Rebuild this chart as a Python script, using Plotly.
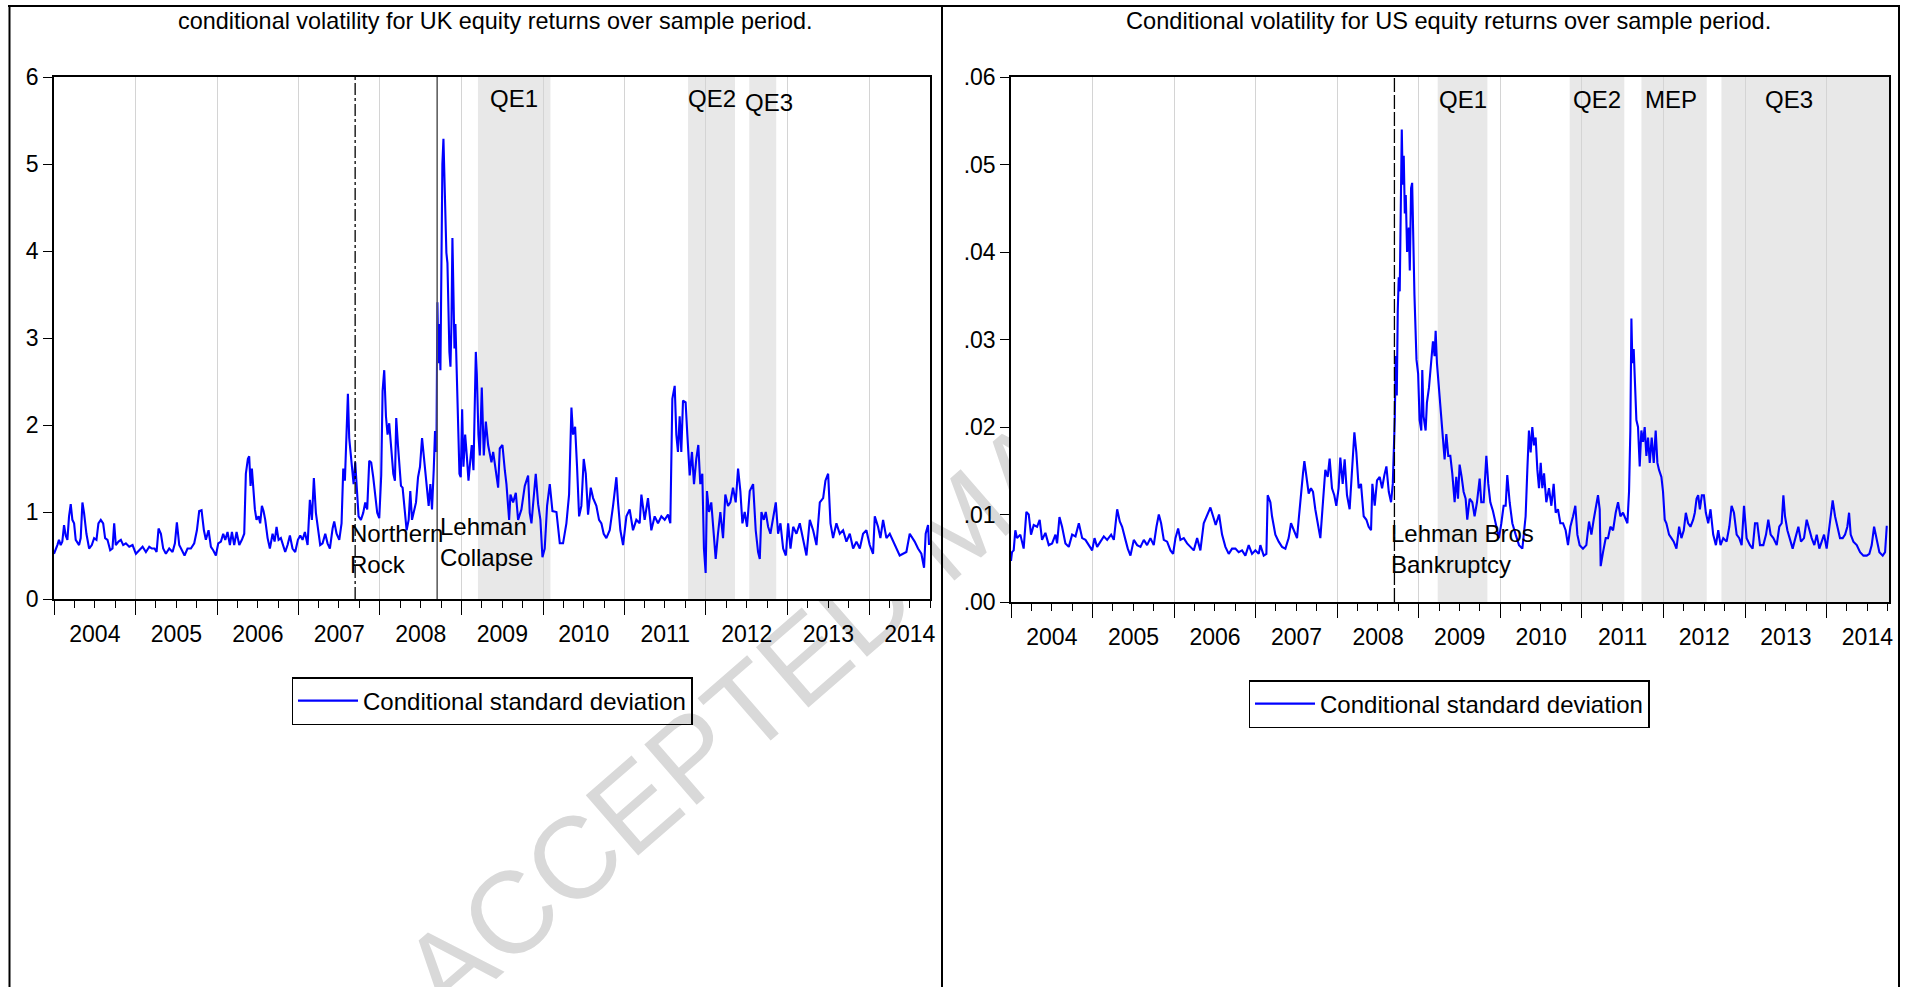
import pandas as pd
import plotly.graph_objects as go

# ---------------- data ----------------
uk_time = [
    2004.000, 2004.020, 2004.041, 2004.061, 2004.082, 2004.102, 2004.123, 2004.143, 2004.164, 2004.184,
    2004.205, 2004.225, 2004.246, 2004.266, 2004.307, 2004.327, 2004.348, 2004.368, 2004.397, 2004.430,
    2004.463, 2004.491, 2004.520, 2004.544, 2004.573, 2004.602, 2004.626, 2004.655, 2004.688, 2004.716,
    2004.737, 2004.757, 2004.790, 2004.819, 2004.847, 2004.880, 2004.921, 2004.962, 2005.003, 2005.044,
    2005.085, 2005.126, 2005.167, 2005.199, 2005.232, 2005.257, 2005.281, 2005.310, 2005.338, 2005.371,
    2005.412, 2005.453, 2005.482, 2005.506, 2005.535, 2005.568, 2005.600, 2005.637, 2005.678, 2005.719,
    2005.752, 2005.780, 2005.809, 2005.838, 2005.862, 2005.895, 2005.924, 2005.952, 2005.985, 2006.014,
    2006.047, 2006.075, 2006.100, 2006.128, 2006.157, 2006.182, 2006.210, 2006.239, 2006.272, 2006.304,
    2006.333, 2006.353, 2006.378, 2006.394, 2006.411, 2006.427, 2006.444, 2006.464, 2006.484, 2006.509,
    2006.529, 2006.550, 2006.570, 2006.591, 2006.620, 2006.648, 2006.681, 2006.706, 2006.730, 2006.755,
    2006.783, 2006.812, 2006.836, 2006.865, 2006.894, 2006.926, 2006.959, 2006.992, 2007.021, 2007.049,
    2007.078, 2007.111, 2007.139, 2007.164, 2007.188, 2007.213, 2007.238, 2007.266, 2007.295, 2007.328,
    2007.356, 2007.385, 2007.418, 2007.438, 2007.467, 2007.500, 2007.528, 2007.549, 2007.569, 2007.590,
    2007.606, 2007.622, 2007.639, 2007.655, 2007.676, 2007.696, 2007.716, 2007.737, 2007.766, 2007.794,
    2007.819, 2007.843, 2007.868, 2007.892, 2007.917, 2007.942, 2007.966, 2007.991, 2008.015, 2008.032,
    2008.052, 2008.073, 2008.093, 2008.113, 2008.138, 2008.163, 2008.183, 2008.199, 2008.220, 2008.236,
    2008.257, 2008.277, 2008.302, 2008.326, 2008.351, 2008.371, 2008.392, 2008.412, 2008.441, 2008.466,
    2008.490, 2008.515, 2008.535, 2008.556, 2008.576, 2008.596, 2008.617, 2008.637, 2008.658, 2008.674,
    2008.691, 2008.703, 2008.715, 2008.727, 2008.740, 2008.752, 2008.764, 2008.777, 2008.789, 2008.801,
    2008.813, 2008.826, 2008.838, 2008.850, 2008.863, 2008.875, 2008.887, 2008.899, 2008.912, 2008.924,
    2008.940, 2008.957, 2008.973, 2008.989, 2009.006, 2009.022, 2009.043, 2009.063, 2009.084, 2009.104,
    2009.124, 2009.145, 2009.161, 2009.174, 2009.186, 2009.206, 2009.223, 2009.247, 2009.272, 2009.297,
    2009.325, 2009.366, 2009.387, 2009.427, 2009.448, 2009.468, 2009.501, 2009.530, 2009.550, 2009.583,
    2009.599, 2009.632, 2009.665, 2009.693, 2009.734, 2009.775, 2009.816, 2009.836, 2009.857, 2009.910,
    2009.939, 2009.967, 2009.992, 2010.020, 2010.049, 2010.082, 2010.115, 2010.164, 2010.205, 2010.245,
    2010.286, 2010.319, 2010.348, 2010.368, 2010.393, 2010.417, 2010.442, 2010.470, 2010.499, 2010.524,
    2010.552, 2010.585, 2010.614, 2010.654, 2010.687, 2010.716, 2010.744, 2010.777, 2010.818, 2010.859,
    2010.900, 2010.920, 2010.949, 2010.982, 2011.023, 2011.063, 2011.104, 2011.145, 2011.186, 2011.207,
    2011.247, 2011.288, 2011.329, 2011.370, 2011.411, 2011.452, 2011.493, 2011.534, 2011.562, 2011.587,
    2011.616, 2011.636, 2011.656, 2011.677, 2011.697, 2011.718, 2011.750, 2011.771, 2011.800, 2011.828,
    2011.853, 2011.881, 2011.906, 2011.930, 2011.955, 2011.975, 2011.996, 2012.012, 2012.037, 2012.065,
    2012.094, 2012.119, 2012.147, 2012.176, 2012.209, 2012.237, 2012.270, 2012.299, 2012.331, 2012.364,
    2012.393, 2012.421, 2012.446, 2012.474, 2012.503, 2012.536, 2012.577, 2012.609, 2012.638, 2012.659,
    2012.679, 2012.708, 2012.732, 2012.761, 2012.789, 2012.822, 2012.855, 2012.883, 2012.912, 2012.945,
    2012.978, 2013.006, 2013.035, 2013.068, 2013.108, 2013.149, 2013.190, 2013.231, 2013.272, 2013.313,
    2013.354, 2013.395, 2013.436, 2013.464, 2013.497, 2013.526, 2013.558, 2013.599, 2013.640, 2013.681,
    2013.722, 2013.763, 2013.804, 2013.845, 2013.886, 2013.926, 2013.967, 2014.008, 2014.049, 2014.070,
    2014.110, 2014.139, 2014.172, 2014.213, 2014.254, 2014.295, 2014.335, 2014.376, 2014.417, 2014.458,
    2014.499, 2014.532, 2014.560, 2014.601, 2014.642, 2014.675, 2014.695, 2014.724, 2014.736,
]
uk_vol = [
    0.52, 0.56, 0.62, 0.68, 0.62, 0.66, 0.85, 0.73, 0.68, 0.95,
    1.09, 0.91, 0.87, 0.68, 0.62, 0.70, 1.11, 0.99, 0.75, 0.58,
    0.62, 0.70, 0.68, 0.87, 0.91, 0.87, 0.70, 0.68, 0.56, 0.58,
    0.87, 0.62, 0.66, 0.68, 0.62, 0.64, 0.60, 0.62, 0.52, 0.56,
    0.60, 0.54, 0.60, 0.58, 0.58, 0.54, 0.81, 0.75, 0.58, 0.52,
    0.58, 0.54, 0.64, 0.88, 0.62, 0.56, 0.50, 0.58, 0.58, 0.64,
    0.79, 1.01, 1.02, 0.79, 0.68, 0.79, 0.60, 0.56, 0.50, 0.64,
    0.66, 0.75, 0.68, 0.77, 0.62, 0.77, 0.62, 0.77, 0.62, 0.68,
    0.75, 1.44, 1.61, 1.64, 1.30, 1.50, 1.28, 1.03, 0.91, 0.95,
    0.87, 1.07, 1.01, 0.91, 0.70, 0.58, 0.75, 0.66, 0.83, 0.68,
    0.70, 0.62, 0.54, 0.62, 0.73, 0.58, 0.54, 0.68, 0.73, 0.68,
    0.77, 0.62, 1.14, 0.91, 1.39, 0.99, 0.79, 0.62, 0.64, 0.75,
    0.64, 0.58, 0.81, 0.89, 0.75, 0.68, 0.87, 1.50, 1.36, 2.00,
    2.36, 1.85, 1.65, 1.48, 1.32, 1.57, 1.28, 0.95, 0.91, 0.99,
    1.11, 1.03, 1.59, 1.57, 1.40, 1.20, 0.99, 0.93, 1.42, 2.39,
    2.63, 2.10, 1.89, 2.02, 1.77, 1.44, 1.36, 2.08, 1.77, 1.52,
    1.30, 1.28, 0.99, 0.79, 0.91, 1.24, 0.91, 0.99, 1.11, 1.40,
    1.52, 1.85, 1.65, 1.48, 1.24, 1.07, 1.32, 1.03, 1.48, 1.93,
    1.69, 3.41, 2.71, 3.16, 2.63, 3.82, 5.00, 5.29, 4.72, 4.48,
    3.98, 3.86, 3.33, 2.84, 2.67, 3.16, 4.15, 3.53, 2.88, 3.16,
    2.51, 1.89, 1.44, 1.40, 2.18, 1.52, 1.89, 1.65, 1.36, 1.57,
    1.77, 1.48, 2.47, 2.84, 2.59, 1.89, 1.65, 2.43, 1.65, 2.04,
    1.77, 1.57, 1.69, 1.44, 1.28, 1.73, 1.77, 1.48, 1.32, 0.91,
    1.20, 1.11, 1.22, 0.91, 1.03, 1.30, 1.42, 0.99, 0.87, 1.44,
    1.09, 0.91, 0.48, 0.58, 1.07, 1.32, 1.01, 1.00, 0.64, 0.64,
    0.87, 1.20, 2.20, 1.89, 1.98, 1.52, 0.95, 1.07, 1.61, 1.44,
    0.97, 1.28, 1.16, 1.07, 0.91, 0.87, 0.75, 0.70, 0.79, 1.07,
    1.40, 1.11, 0.79, 0.62, 0.95, 1.03, 0.79, 0.91, 0.87, 1.20,
    0.91, 1.16, 0.79, 0.95, 0.87, 0.95, 0.91, 0.97, 0.87, 2.30,
    2.45, 1.89, 1.69, 2.10, 1.69, 2.28, 2.26, 1.89, 1.42, 1.69,
    1.32, 1.61, 1.77, 1.32, 1.44, 0.58, 0.30, 1.24, 1.00, 1.11,
    0.75, 0.46, 0.75, 1.00, 0.70, 1.20, 1.07, 1.11, 1.28, 1.11,
    1.50, 1.24, 0.87, 1.00, 0.83, 1.24, 1.32, 0.79, 0.54, 0.46,
    1.00, 0.91, 1.00, 0.83, 0.75, 0.91, 1.11, 0.75, 0.87, 0.58,
    0.50, 0.87, 0.58, 0.83, 0.75, 0.87, 0.70, 0.50, 0.91, 0.79,
    0.62, 1.11, 1.16, 1.36, 1.44, 0.87, 0.70, 0.87, 0.75, 0.79,
    0.66, 0.75, 0.58, 0.66, 0.58, 0.75, 0.79, 0.62, 0.52, 0.95,
    0.83, 0.70, 0.91, 0.70, 0.75, 0.66, 0.58, 0.50, 0.52, 0.54,
    0.75, 0.70, 0.66, 0.58, 0.52, 0.36, 0.75, 0.85, 0.62,
]

us_time = [
    2004.000, 2004.012, 2004.033, 2004.053, 2004.074, 2004.114, 2004.155, 2004.188, 2004.217, 2004.245,
    2004.278, 2004.319, 2004.351, 2004.380, 2004.421, 2004.462, 2004.503, 2004.544, 2004.564, 2004.593,
    2004.625, 2004.666, 2004.707, 2004.748, 2004.789, 2004.830, 2004.871, 2004.911, 2004.952, 2004.993,
    2005.022, 2005.054, 2005.095, 2005.136, 2005.177, 2005.226, 2005.259, 2005.300, 2005.332, 2005.361,
    2005.402, 2005.430, 2005.463, 2005.504, 2005.545, 2005.586, 2005.627, 2005.667, 2005.708, 2005.749,
    2005.782, 2005.811, 2005.839, 2005.872, 2005.913, 2005.954, 2005.986, 2006.015, 2006.048, 2006.076,
    2006.117, 2006.158, 2006.199, 2006.240, 2006.281, 2006.321, 2006.362, 2006.403, 2006.444, 2006.477,
    2006.509, 2006.550, 2006.587, 2006.628, 2006.669, 2006.710, 2006.751, 2006.791, 2006.832, 2006.873,
    2006.914, 2006.955, 2006.996, 2007.037, 2007.057, 2007.098, 2007.131, 2007.147, 2007.180, 2007.200,
    2007.241, 2007.282, 2007.323, 2007.364, 2007.404, 2007.433, 2007.466, 2007.507, 2007.527, 2007.556,
    2007.580, 2007.597, 2007.621, 2007.650, 2007.678, 2007.703, 2007.731, 2007.760, 2007.793, 2007.825,
    2007.854, 2007.883, 2007.907, 2007.936, 2007.964, 2007.989, 2008.017, 2008.038, 2008.067, 2008.091,
    2008.120, 2008.152, 2008.185, 2008.210, 2008.234, 2008.263, 2008.291, 2008.324, 2008.357, 2008.385,
    2008.414, 2008.430, 2008.459, 2008.487, 2008.520, 2008.549, 2008.577, 2008.602, 2008.631, 2008.659,
    2008.680, 2008.692, 2008.704, 2008.716, 2008.729, 2008.741, 2008.753, 2008.765, 2008.778, 2008.790,
    2008.802, 2008.814, 2008.827, 2008.839, 2008.855, 2008.876, 2008.888, 2008.904, 2008.917, 2008.929,
    2008.945, 2008.970, 2008.990, 2009.008, 2009.029, 2009.041, 2009.057, 2009.082, 2009.098, 2009.123,
    2009.151, 2009.172, 2009.192, 2009.205, 2009.221, 2009.246, 2009.262, 2009.286, 2009.315, 2009.336,
    2009.360, 2009.385, 2009.409, 2009.438, 2009.458, 2009.479, 2009.499, 2009.524, 2009.548, 2009.573,
    2009.593, 2009.622, 2009.655, 2009.683, 2009.712, 2009.745, 2009.765, 2009.794, 2009.827, 2009.851,
    2009.876, 2009.908, 2009.949, 2009.982, 2010.011, 2010.039, 2010.064, 2010.084, 2010.113, 2010.146,
    2010.187, 2010.228, 2010.269, 2010.309, 2010.330, 2010.350, 2010.371, 2010.391, 2010.412, 2010.432,
    2010.453, 2010.473, 2010.494, 2010.514, 2010.535, 2010.563, 2010.596, 2010.625, 2010.653, 2010.678,
    2010.706, 2010.735, 2010.768, 2010.800, 2010.829, 2010.858, 2010.891, 2010.919, 2010.944, 2010.972,
    2011.013, 2011.054, 2011.087, 2011.116, 2011.144, 2011.177, 2011.197, 2011.218, 2011.230, 2011.259,
    2011.292, 2011.320, 2011.349, 2011.382, 2011.414, 2011.443, 2011.472, 2011.504, 2011.537, 2011.558,
    2011.578, 2011.594, 2011.607, 2011.619, 2011.635, 2011.652, 2011.668, 2011.688, 2011.709, 2011.729,
    2011.750, 2011.770, 2011.791, 2011.811, 2011.832, 2011.856, 2011.881, 2011.905, 2011.926, 2011.946,
    2011.975, 2011.995, 2012.016, 2012.036, 2012.069, 2012.098, 2012.126, 2012.159, 2012.192, 2012.220,
    2012.249, 2012.274, 2012.302, 2012.331, 2012.364, 2012.384, 2012.405, 2012.425, 2012.446, 2012.470,
    2012.495, 2012.519, 2012.548, 2012.576, 2012.609, 2012.642, 2012.671, 2012.699, 2012.732, 2012.773,
    2012.806, 2012.834, 2012.863, 2012.896, 2012.928, 2012.957, 2012.986, 2013.018, 2013.059, 2013.092,
    2013.121, 2013.149, 2013.182, 2013.223, 2013.256, 2013.284, 2013.313, 2013.346, 2013.387, 2013.419,
    2013.448, 2013.469, 2013.489, 2013.518, 2013.550, 2013.583, 2013.616, 2013.653, 2013.685, 2013.722,
    2013.755, 2013.788, 2013.816, 2013.849, 2013.878, 2013.910, 2013.939, 2013.968, 2014.000, 2014.041,
    2014.074, 2014.103, 2014.131, 2014.164, 2014.197, 2014.226, 2014.254, 2014.275, 2014.295, 2014.328,
    2014.369, 2014.410, 2014.451, 2014.492, 2014.524, 2014.553, 2014.582, 2014.614, 2014.647, 2014.688,
    2014.717, 2014.737, 2014.749,
]
us_vol = [
    0.0047, 0.0057, 0.0059, 0.0082, 0.0073, 0.0077, 0.0061, 0.0103, 0.0100, 0.0077,
    0.0088, 0.0086, 0.0094, 0.0071, 0.0079, 0.0065, 0.0067, 0.0077, 0.0067, 0.0097,
    0.0086, 0.0067, 0.0063, 0.0077, 0.0075, 0.0090, 0.0073, 0.0071, 0.0065, 0.0059,
    0.0073, 0.0063, 0.0069, 0.0075, 0.0071, 0.0077, 0.0071, 0.0106, 0.0092, 0.0086,
    0.0071, 0.0061, 0.0053, 0.0071, 0.0065, 0.0063, 0.0071, 0.0065, 0.0073, 0.0065,
    0.0086, 0.0100, 0.0090, 0.0071, 0.0069, 0.0059, 0.0055, 0.0073, 0.0084, 0.0071,
    0.0073, 0.0067, 0.0063, 0.0059, 0.0073, 0.0059, 0.0090, 0.0098, 0.0108, 0.0098,
    0.0088, 0.0100, 0.0077, 0.0063, 0.0055, 0.0061, 0.0061, 0.0057, 0.0059, 0.0053,
    0.0065, 0.0055, 0.0059, 0.0055, 0.0065, 0.0053, 0.0055, 0.0122, 0.0114, 0.0098,
    0.0077, 0.0069, 0.0063, 0.0061, 0.0073, 0.0090, 0.0082, 0.0073, 0.0094, 0.0126,
    0.0147, 0.0161, 0.0143, 0.0124, 0.0130, 0.0126, 0.0106, 0.0090, 0.0073, 0.0114,
    0.0151, 0.0143, 0.0164, 0.0130, 0.0122, 0.0110, 0.0130, 0.0165, 0.0135, 0.0163,
    0.0122, 0.0106, 0.0159, 0.0194, 0.0171, 0.0130, 0.0135, 0.0098, 0.0094, 0.0086,
    0.0082, 0.0135, 0.0110, 0.0139, 0.0143, 0.0130, 0.0145, 0.0155, 0.0126, 0.0114,
    0.0135, 0.0171, 0.0208, 0.0281, 0.0236, 0.0334, 0.0371, 0.0355, 0.0501, 0.0540,
    0.0477, 0.0510, 0.0444, 0.0465, 0.0400, 0.0428, 0.0379, 0.0473, 0.0479, 0.0408,
    0.0351, 0.0277, 0.0261, 0.0208, 0.0196, 0.0265, 0.0212, 0.0196, 0.0228, 0.0245,
    0.0273, 0.0298, 0.0281, 0.0310, 0.0273, 0.0245, 0.0228, 0.0196, 0.0163, 0.0192,
    0.0167, 0.0167, 0.0147, 0.0114, 0.0143, 0.0118, 0.0157, 0.0143, 0.0126, 0.0118,
    0.0094, 0.0118, 0.0114, 0.0098, 0.0114, 0.0141, 0.0114, 0.0114, 0.0167, 0.0135,
    0.0114, 0.0104, 0.0086, 0.0073, 0.0090, 0.0110, 0.0110, 0.0145, 0.0114, 0.0090,
    0.0077, 0.0065, 0.0061, 0.0098, 0.0151, 0.0196, 0.0171, 0.0200, 0.0179, 0.0188,
    0.0151, 0.0130, 0.0159, 0.0130, 0.0147, 0.0114, 0.0130, 0.0110, 0.0135, 0.0102,
    0.0106, 0.0090, 0.0090, 0.0082, 0.0065, 0.0086, 0.0098, 0.0110, 0.0077, 0.0065,
    0.0061, 0.0065, 0.0092, 0.0077, 0.0094, 0.0110, 0.0122, 0.0106, 0.0041, 0.0057,
    0.0073, 0.0073, 0.0086, 0.0082, 0.0102, 0.0114, 0.0098, 0.0102, 0.0094, 0.0090,
    0.0126, 0.0196, 0.0324, 0.0273, 0.0289, 0.0236, 0.0208, 0.0200, 0.0155, 0.0196,
    0.0183, 0.0200, 0.0167, 0.0188, 0.0159, 0.0188, 0.0159, 0.0196, 0.0159, 0.0151,
    0.0143, 0.0126, 0.0094, 0.0090, 0.0077, 0.0073, 0.0069, 0.0061, 0.0086, 0.0073,
    0.0082, 0.0102, 0.0090, 0.0086, 0.0094, 0.0102, 0.0118, 0.0122, 0.0106, 0.0122,
    0.0122, 0.0102, 0.0090, 0.0106, 0.0077, 0.0065, 0.0082, 0.0065, 0.0073, 0.0069,
    0.0086, 0.0110, 0.0102, 0.0077, 0.0073, 0.0065, 0.0110, 0.0073, 0.0065, 0.0061,
    0.0090, 0.0090, 0.0065, 0.0065, 0.0077, 0.0094, 0.0077, 0.0073, 0.0065, 0.0086,
    0.0090, 0.0122, 0.0098, 0.0082, 0.0073, 0.0061, 0.0073, 0.0086, 0.0069, 0.0073,
    0.0094, 0.0082, 0.0073, 0.0065, 0.0077, 0.0061, 0.0069, 0.0077, 0.0061, 0.0090,
    0.0116, 0.0098, 0.0086, 0.0073, 0.0073, 0.0077, 0.0086, 0.0102, 0.0077, 0.0069,
    0.0065, 0.0057, 0.0053, 0.0053, 0.0055, 0.0065, 0.0086, 0.0073, 0.0057, 0.0053,
    0.0057, 0.0086, 0.0086,
]

# events (decimal years) and policy windows
uk_northern_rock = 2007.695
lehman = 2008.700
uk_windows = [("QE1", 2009.20, 2010.09), ("QE2", 2011.78, 2012.355), ("QE3", 2012.53, 2012.86)]
us_windows = [("QE1", 2009.23, 2009.84), ("QE2", 2010.85, 2011.52),
              ("MEP", 2011.73, 2012.53), ("QE3", 2012.71, 2014.80)]

uk_y_ticks = [0, 1, 2, 3, 4, 5, 6]
uk_y_labels = ["0", "1", "2", "3", "4", "5", "6"]
us_y_ticks = [0.0, 0.01, 0.02, 0.03, 0.04, 0.05, 0.06]
us_y_labels = [".00", ".01", ".02", ".03", ".04", ".05", ".06"]

uk_title = "conditional volatility for UK equity returns over sample period."
us_title = "Conditional volatility for US equity returns over sample period."
series_name = "Conditional standard deviation"
watermark = "ACCEPTED MA"


def to_date(t):
    y = int(t)
    start = pd.Timestamp(year=y, month=1, day=1)
    end = pd.Timestamp(year=y + 1, month=1, day=1)
    return start + (end - start) * (t - y)


W, H = 1905, 987
FONT = "Liberation Sans, Arial, sans-serif"


def px(x):
    return x / W


def py(y):
    return 1 - y / H


fig = go.Figure()
fig.add_trace(go.Scatter(x=[to_date(t) for t in uk_time], y=uk_vol, mode="lines",
                         line=dict(color="#0000ff", width=2.1), name=series_name,
                         xaxis="x", yaxis="y", legend="legend", showlegend=True))
fig.add_trace(go.Scatter(x=[to_date(t) for t in us_time], y=us_vol, mode="lines",
                         line=dict(color="#0000ff", width=2.1), name=series_name,
                         xaxis="x2", yaxis="y2", legend="legend2", showlegend=True))

xcommon = dict(type="date", dtick="M12", tick0="2004-01-01", tickformat="%Y",
               ticklabelmode="period", ticks="outside", ticklen=14, tickwidth=1.2,
               tickcolor="black", showgrid=True, gridcolor="#d4d4d4", gridwidth=1,
               showline=True, mirror=True, linecolor="black", linewidth=1.5,
               zeroline=False, tickfont=dict(size=23, color="black"), automargin=False,
               minor=dict(dtick="M3", tick0="2004-01-01", ticks="outside", ticklen=7,
                          tickwidth=1, tickcolor="black", showgrid=False))
ycommon = dict(ticks="outside", ticklen=9, tickwidth=1.2, tickcolor="black",
               showgrid=False, showline=True, mirror=True, linecolor="black",
               linewidth=1.5, zeroline=False, automargin=False,
               tickfont=dict(size=23, color="black"))

legend_common = dict(xanchor="center", yanchor="top", bordercolor="black", borderwidth=1.5,
                     bgcolor="rgba(255,255,255,0)", itemwidth=60,
                     font=dict(size=24, color="black"))

fig.update_layout(
    width=W, height=H, margin=dict(l=0, r=0, t=0, b=0, autoexpand=False),
    paper_bgcolor="white", plot_bgcolor="white", showlegend=True,
    font=dict(family=FONT, color="black"),
    xaxis=dict(domain=[px(54), px(930)], range=[to_date(2004.0), to_date(2014.748)],
               anchor="y", **xcommon),
    yaxis=dict(domain=[py(599), py(77)], range=[0, 6], tickmode="array",
               tickvals=uk_y_ticks, ticktext=uk_y_labels, anchor="x", **ycommon),
    xaxis2=dict(domain=[px(1011), px(1889)], range=[to_date(2004.0), to_date(2014.765)],
                anchor="y2", **xcommon),
    yaxis2=dict(domain=[py(602), py(77)], range=[0, 0.06], tickmode="array",
                tickvals=us_y_ticks, ticktext=us_y_labels, anchor="x2", **ycommon),
    legend=dict(x=px(492), y=py(677), **legend_common),
    legend2=dict(x=px(1449), y=py(680), **legend_common),
)

shapes = []
annotations = []

# watermark: lies beneath everything, hidden by the opaque plot areas
shapes.append(dict(type="line", xref="paper", yref="paper",
                   x0=px(413), y0=py(984), x1=px(1045), y1=py(434), layer="below",
                   line=dict(color="rgba(0,0,0,0)", width=0),
                   label=dict(text=watermark, textposition="middle", textangle=-41,
                              xanchor="center", yanchor="middle", padding=0,
                              font=dict(size=116, color="#d9d9d9", family=FONT))))
# opaque plot areas
shapes.append(dict(type="rect", xref="paper", yref="paper", x0=px(54), x1=px(930),
                   y0=py(599), y1=py(77), fillcolor="white", line=dict(width=0), layer="below"))
shapes.append(dict(type="rect", xref="paper", yref="paper", x0=px(1011), x1=px(1889),
                   y0=py(602), y1=py(77), fillcolor="white", line=dict(width=0), layer="below"))

for windows, xa, ya in [(uk_windows, "x", "y"), (us_windows, "x2", "y2")]:
    for label, t0, t1 in windows:
        shapes.append(dict(type="rect", xref=xa, yref=f"{ya} domain",
                           x0=to_date(t0), x1=to_date(t1), y0=0, y1=1,
                           fillcolor="#e8e8e8", line=dict(width=0), layer="below"))

# QE labels
uk_label_x = {"QE1": 2009.645, "QE2": 2012.07, "QE3": 2012.77}
for label, t0, t1 in uk_windows:
    annotations.append(dict(text=label, x=to_date(uk_label_x[label]),
                            y=0.958 if label != "QE3" else 0.952,
                            xref="x", yref="y domain", showarrow=False,
                            xanchor="center", yanchor="middle",
                            font=dict(size=24, color="black")))
us_label_x = {"QE1": 2009.54, "QE2": 2011.18, "MEP": 2012.09, "QE3": 2013.54}
for label, t0, t1 in us_windows:
    annotations.append(dict(text=label, x=to_date(us_label_x[label]), y=0.958,
                            xref="x2", yref="y2 domain", showarrow=False,
                            xanchor="center", yanchor="middle",
                            font=dict(size=24, color="black")))

# event lines
shapes.append(dict(type="line", xref="x", yref="y domain", x0=to_date(uk_northern_rock),
                   x1=to_date(uk_northern_rock), y0=0, y1=1, layer="above",
                   line=dict(color="black", width=1.3, dash="12px,3px,3px,3px")))
shapes.append(dict(type="line", xref="x", yref="y domain", x0=to_date(lehman),
                   x1=to_date(lehman), y0=0, y1=1, layer="above",
                   line=dict(color="#555555", width=1.5)))
shapes.append(dict(type="line", xref="x2", yref="y2 domain", x0=to_date(lehman),
                   x1=to_date(lehman), y0=0, y1=1, layer="above",
                   line=dict(color="black", width=1.3, dash="14px,3px")))

annotations.append(dict(text="Northern<br>Rock", x=to_date(uk_northern_rock), xshift=-7,
                        y=0.155, xref="x", yref="y domain", showarrow=False,
                        xanchor="left", yanchor="top", align="left",
                        font=dict(size=24, color="black")))
annotations.append(dict(text="Lehman<br>Collapse", x=to_date(lehman), xshift=1,
                        y=0.168, xref="x", yref="y domain", showarrow=False,
                        xanchor="left", yanchor="top", align="left",
                        font=dict(size=24, color="black")))
annotations.append(dict(text="Lehman Bros<br>Bankruptcy", x=to_date(lehman), xshift=-5,
                        y=0.160, xref="x2", yref="y2 domain", showarrow=False,
                        xanchor="left", yanchor="top", align="left",
                        font=dict(size=24, color="black")))

# panel titles
annotations.append(dict(text=uk_title, x=px(495), y=py(21), xref="paper", yref="paper",
                        showarrow=False, xanchor="center", yanchor="middle",
                        font=dict(size=23.4, color="black")))
annotations.append(dict(text=us_title, x=px(1448), y=py(21), xref="paper", yref="paper",
                        showarrow=False, xanchor="center", yanchor="middle",
                        font=dict(size=23.6, color="black")))

# outer panel frames
frame = dict(color="black", width=2)
shapes.append(dict(type="line", xref="paper", yref="paper", x0=px(8), x1=px(1900),
                   y0=py(6), y1=py(6), line=frame))
for xline in (9.5, 942, 1899):
    shapes.append(dict(type="line", xref="paper", yref="paper", x0=px(xline), x1=px(xline),
                       y0=py(6), y1=-0.02, line=frame))

fig.update_layout(shapes=shapes, annotations=annotations)

fig.write_html("out.html", config={"displayModeBar": False},
               post_script="document.body.style.margin='0';document.body.style.overflow='hidden';")
